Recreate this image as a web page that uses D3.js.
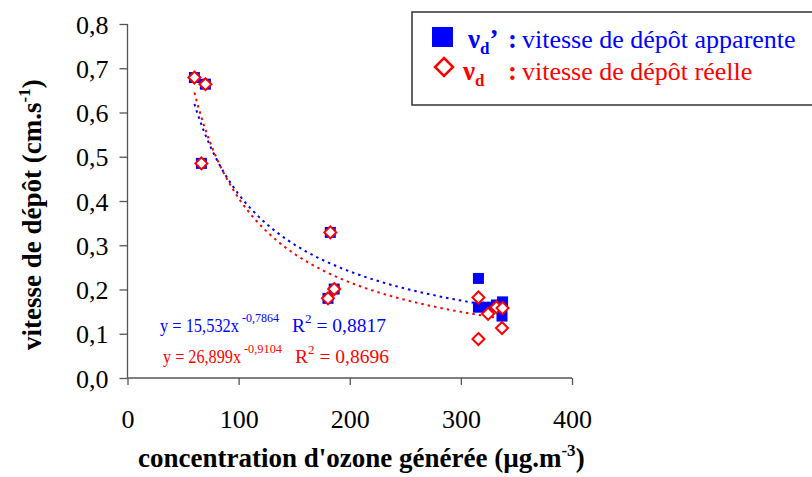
<!DOCTYPE html>
<html><head><meta charset="utf-8">
<script src="https://cdn.jsdelivr.net/npm/d3@7"></script>
<style>body{margin:0;background:#fff}svg{display:block} text{font-family:"Liberation Serif","Times New Roman","DejaVu Serif",serif}</style>
</head><body>
<script>
// ---- data ----
const concentration = [60.2, 70.1, 66.5, 182.5, 186, 180.4, 315.8, 315.8, 324.5, 332, 337.5, 337];
const vdApparente   = [0.679, 0.664, 0.485, 0.329, 0.201, 0.180, 0.225, 0.160, 0.160, 0.165, 0.172, 0.140];
const vdReelle      = [0.679, 0.664, 0.485, 0.329, 0.201, 0.180, 0.182, 0.088, 0.145, 0.160, 0.158, 0.113];
const xTicks = [0, 100, 200, 300, 400];
const yTicks = [0, 0.1, 0.2, 0.3, 0.4, 0.5, 0.6, 0.7, 0.8];
const fitBlue = {a: 15.532, b: -0.7864, r2: "0,8817", aTxt: "15,532", bTxt: "-0,7864"};
const fitRed  = {a: 26.899, b: -0.9104, r2: "0,8696", aTxt: "26,899", bTxt: "-0,9104"};

const W = 812, H = 477;
const BLUE = "#0000ff", RED = "#ff0000";
const FONT = "Liberation Serif, Times New Roman, DejaVu Serif, serif";
const svg = d3.select("body").append("svg").attr("width", W).attr("height", H);

const x = d3.scaleLinear().domain([0, 400]).range([127.5, 572]);
const y = d3.scaleLinear().domain([0, 0.8]).range([378, 24]);

// axes
const yAxis = d3.axisLeft(y).tickValues(yTicks).tickSize(8).tickPadding(11)
  .tickFormat(d => d3.format(".1f")(d).replace(".", ","));
const gy = svg.append("g").attr("transform", `translate(${x(0)},0)`).call(yAxis);
const xAxis = d3.axisBottom(x).tickValues(xTicks).tickSize(7).tickPadding(25);
const gx = svg.append("g").attr("transform", `translate(0,${y(0)})`).call(xAxis);
[gx, gy].forEach(g => {
  g.attr("font-family", FONT).attr("font-size", 26);
  g.select(".domain").attr("stroke", "#555").attr("stroke-width", 1.3);
  g.selectAll(".tick line").attr("stroke", "#555").attr("stroke-width", 1.3);
  g.selectAll("text").attr("fill", "#000");
});
gy.selectAll("text").attr("dy", "0.35em");
gx.select(".domain").attr("d", `M${x(0)},0H${x(400)}`);
gy.select(".domain").attr("d", `M0,${y(0)}V${y(0.8)}`);

// trendlines
function trend(fit, color) {
  const x0 = d3.min(concentration), x1 = d3.max(concentration);
  const pts = d3.range(0, 101).map(i => x0 + (x1 - x0) * i / 100);
  const line = d3.line().x(d => x(d)).y(d => y(fit.a * Math.pow(d, fit.b)));
  svg.append("path").attr("d", line(pts)).attr("fill", "none")
    .attr("stroke", color).attr("stroke-width", 2).attr("stroke-dasharray", "2.5,4");
}
trend(fitBlue, BLUE);
trend(fitRed, RED);

// points
const s = 11;
svg.append("g").selectAll("rect").data(concentration).join("rect")
  .attr("x", (d, i) => x(d) - s / 2).attr("y", (d, i) => y(vdApparente[i]) - s / 2)
  .attr("width", s).attr("height", s).attr("fill", BLUE);
const r = 6;
svg.append("g").selectAll("path").data(concentration).join("path")
  .attr("d", (d, i) => {
    const cx = x(d), cy = y(vdReelle[i]);
    return `M${cx},${cy - r}L${cx + r},${cy}L${cx},${cy + r}L${cx - r},${cy}Z`;
  })
  .attr("fill", "#fff").attr("stroke", RED).attr("stroke-width", 2);

// equations (one text element each)
function eq(fit, color, ex, ey, mainW, expW, rx) {
  const t = svg.append("text").attr("x", ex).attr("y", ey).attr("fill", color)
    .style("font-size", "19.5px");
  t.append("tspan").attr("textLength", mainW).attr("lengthAdjust", "spacingAndGlyphs")
    .text(`y = ${fit.aTxt}x`);
  t.append("tspan").attr("x", ex + mainW + 3).attr("dy", -10).style("font-size", "13px")
    .attr("textLength", expW).attr("lengthAdjust", "spacingAndGlyphs").text(fit.bTxt);
  t.append("tspan").attr("x", rx).attr("dy", 10).text("R");
  t.append("tspan").attr("dy", -9).style("font-size", "13px").text("2");
  t.append("tspan").attr("dy", 9).text(` = ${fit.r2}`);
}
eq(fitBlue, BLUE, 160, 332, 79, 37, 292);
eq(fitRed, RED, 163, 363, 78, 38, 295);

// axis titles
const xt = svg.append("text").attr("x", 138).attr("y", 467)
  .style("font-size", "27px").style("font-weight", "bold").attr("fill", "#000");
xt.append("tspan").text("concentration d'ozone générée (µg.m");
xt.append("tspan").attr("dy", -11).style("font-size", "17px").text("-3");
xt.append("tspan").attr("dy", 11).text(")");

const yt = svg.append("text").attr("transform", "translate(41,350) rotate(-90)")
  .style("font-size", "27px").style("font-weight", "bold").attr("fill", "#000");
yt.append("tspan").text("vitesse de dépôt (cm.s");
yt.append("tspan").attr("dy", -11).style("font-size", "17px").text("-1");
yt.append("tspan").attr("dy", 11).text(")");

// legend
svg.append("rect").attr("x", 412).attr("y", 12).attr("width", 410).attr("height", 93)
  .attr("fill", "#fff").attr("stroke", "#333").attr("stroke-width", 1.5);
svg.append("rect").attr("x", 432).attr("y", 27).attr("width", 21).attr("height", 20).attr("fill", BLUE);
{
  const cx = 444, cy = 67, rr = 9;
  svg.append("path").attr("d", `M${cx},${cy - rr}L${cx + rr},${cy}L${cx},${cy + rr}L${cx - rr},${cy}Z`)
    .attr("fill", "#fff").attr("stroke", RED).attr("stroke-width", 2.5);
}
function legText(lx, ly, color, prime, colonX, labelX, label) {
  const t = svg.append("text").attr("x", lx).attr("y", ly).attr("fill", color).style("font-size", "27px");
  t.append("tspan").style("font-weight", "bold").text("\u03bd");
  t.append("tspan").attr("dy", 6).style("font-weight", "bold").style("font-size", "17px").text("d");
  t.append("tspan").attr("dy", -6).style("font-weight", "bold").text(prime);
  svg.append("text").attr("x", colonX).attr("y", ly).attr("fill", color).style("font-size", "27px")
    .style("font-weight", "bold").text(":");
  svg.append("text").attr("x", labelX).attr("y", ly).attr("fill", color).style("font-size", "26px").text(label);
}
legText(468, 48, BLUE, "\u2019", 508, 522, "vitesse de dépôt apparente");
legText(463, 80, RED, "", 508, 522, "vitesse de dépôt réelle");
</script>
</body></html>
